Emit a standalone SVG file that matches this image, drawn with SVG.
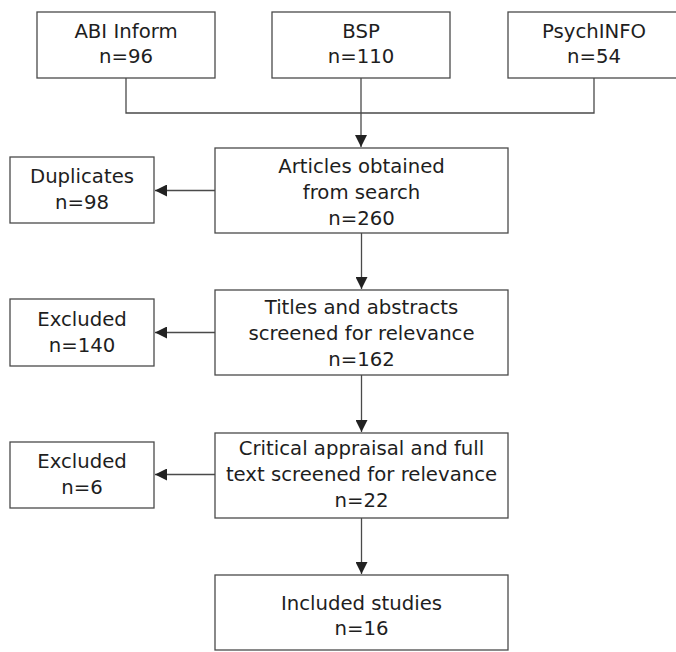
<svg xmlns="http://www.w3.org/2000/svg" width="676" height="652" viewBox="0 0 676 652">
<defs>
<style>
.box{fill:#fff;stroke:#4a4a4a;stroke-width:1.3}
.t{font-family:"DejaVu Sans","Liberation Sans",sans-serif;font-size:19.7px;fill:#1e1e1e;text-anchor:middle}
.c{fill:none;stroke:#4a4a4a;stroke-width:1.3}
</style>
<marker id="ah" markerUnits="userSpaceOnUse" markerWidth="12" markerHeight="12" viewBox="0 0 12 12" refX="12" refY="6" orient="auto">
<path d="M0,0 L12,6 L0,12 Z" fill="#222"/>
</marker>
</defs>
<rect width="676" height="652" fill="#fff"/>
<g id="connectors">
<polyline class="c" points="126,78 126,113 594,113 594,78"/>
<line class="c" x1="361" y1="78" x2="361" y2="147" marker-end="url(#ah)"/>
<line class="c" x1="361.5" y1="233" x2="361.5" y2="289" marker-end="url(#ah)"/>
<line class="c" x1="215" y1="190.5" x2="155" y2="190.5" marker-end="url(#ah)"/>
<line class="c" x1="361.5" y1="375" x2="361.5" y2="432" marker-end="url(#ah)"/>
<line class="c" x1="215" y1="332.5" x2="155" y2="332.5" marker-end="url(#ah)"/>
<line class="c" x1="361.5" y1="518" x2="361.5" y2="574" marker-end="url(#ah)"/>
<line class="c" x1="215" y1="474.5" x2="155" y2="474.5" marker-end="url(#ah)"/>
</g>
<g id="abi">
<rect class="box" x="37" y="12" width="178" height="66"/>
<text class="t" x="126" y="38">ABI Inform</text>
<text class="t" x="126" y="63">n=96</text>
</g>
<g id="bsp">
<rect class="box" x="272" y="12" width="178" height="66"/>
<text class="t" x="361" y="38">BSP</text>
<text class="t" x="361" y="63">n=110</text>
</g>
<g id="psychinfo">
<rect class="box" x="508" y="12" width="182" height="66"/>
<text class="t" x="594" y="38">PsychINFO</text>
<text class="t" x="594" y="63">n=54</text>
</g>
<g id="articles">
<rect class="box" x="215" y="148" width="293" height="85"/>
<text class="t" x="361.5" y="173">Articles obtained</text>
<text class="t" x="361.5" y="199">from search</text>
<text class="t" x="361.5" y="225">n=260</text>
</g>
<g id="duplicates">
<rect class="box" x="10" y="157" width="144" height="66"/>
<text class="t" x="82" y="183">Duplicates</text>
<text class="t" x="82" y="209">n=98</text>
</g>
<g id="titles">
<rect class="box" x="215" y="290" width="293" height="85"/>
<text class="t" x="361.5" y="314">Titles and abstracts</text>
<text class="t" x="361.5" y="340">screened for relevance</text>
<text class="t" x="361.5" y="366">n=162</text>
</g>
<g id="excluded1">
<rect class="box" x="10" y="299" width="144" height="67"/>
<text class="t" x="82" y="326">Excluded</text>
<text class="t" x="82" y="352">n=140</text>
</g>
<g id="critical">
<rect class="box" x="215" y="433" width="293" height="85"/>
<text class="t" x="361.5" y="455">Critical appraisal and full</text>
<text class="t" x="361.5" y="481">text screened for relevance</text>
<text class="t" x="361.5" y="507">n=22</text>
</g>
<g id="excluded2">
<rect class="box" x="10" y="442" width="144" height="66"/>
<text class="t" x="82" y="468">Excluded</text>
<text class="t" x="82" y="494">n=6</text>
</g>
<g id="included">
<rect class="box" x="215" y="575" width="293" height="75"/>
<text class="t" x="361.5" y="610">Included studies</text>
<text class="t" x="361.5" y="635">n=16</text>
</g>
</svg>
